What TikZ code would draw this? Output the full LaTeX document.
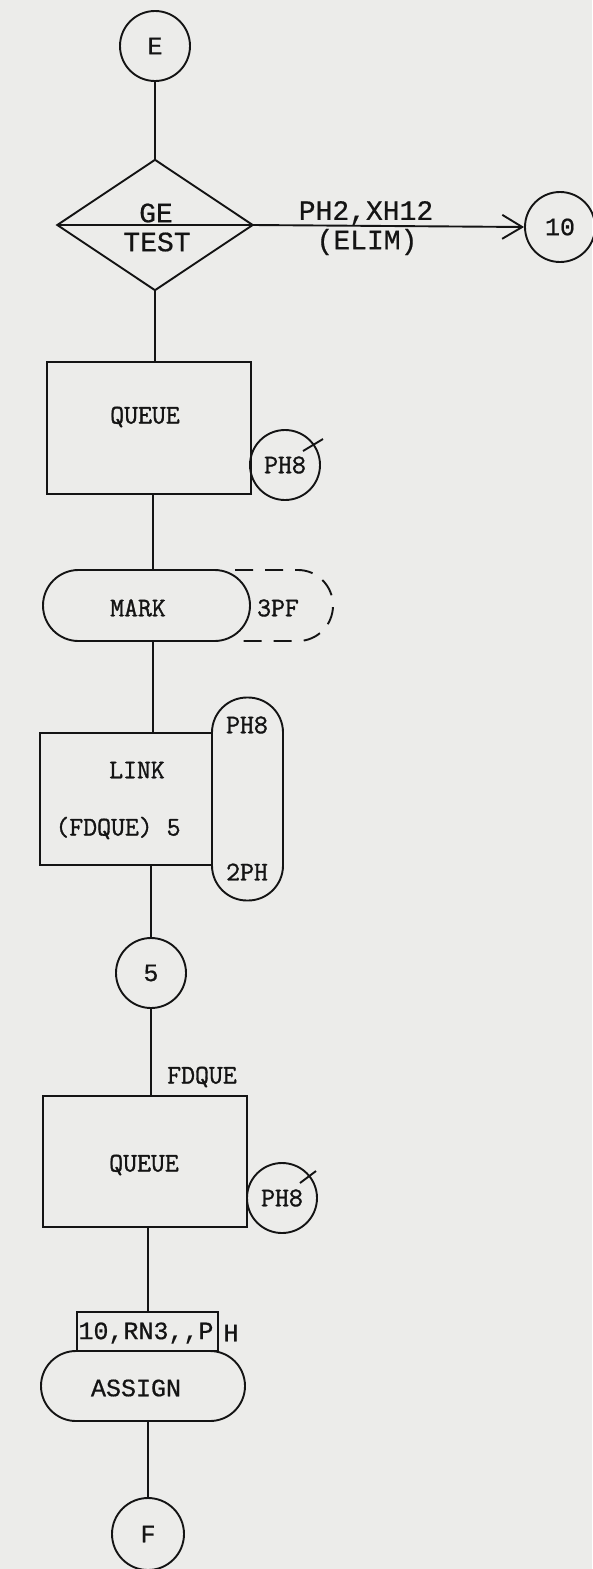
\documentclass[tikz,border=0pt]{standalone}
\usepackage{fontspec}
\usetikzlibrary{shapes.misc,arrows.meta,calc}
\newfontfamily\courfont[FakeBold=0.6]{Liberation Mono}
\newfontfamily\twfont[FakeBold=1.2]{Latin Modern Mono}
\definecolor{bg}{RGB}{236,236,234}
\definecolor{ink}{RGB}{20,20,20}
\tikzset{
  ln/.style={draw=ink, line width=1.9pt},
  conn/.style={circle, draw=ink, line width=1.9pt, minimum size=70pt, inner sep=0pt},
  boxn/.style={rectangle, draw=ink, line width=1.9pt, inner sep=0pt},
  termn/.style={rounded rectangle, draw=ink, line width=1.9pt, inner sep=0pt},
  cour/.style={font=\courfont\fontsize{25}{25}\selectfont, text=ink, inner sep=0pt},
  courbig/.style={font=\courfont\fontsize{28}{28}\selectfont, text=ink, inner sep=0pt},
  tw/.style={font=\twfont\fontsize{27}{27}\selectfont, text=ink, inner sep=0pt},
  barb/.style={-{Straight Barb[length=20pt,width=24pt,line width=1.9pt]}}
}
\begin{document}
\begin{tikzpicture}[x=1pt,y=-1pt]
\fill[bg] (0,0) rectangle (592,1569);
\useasboundingbox (0,0) rectangle (592,1569);

% E connector
\node[conn, cour] (E) at (155,46) {E};

% GE TEST diamond
\node[rectangle, minimum width=195pt, minimum height=130pt, inner sep=0pt] (d) at (155,225) {};
\draw[ln, line join=miter] (d.north) -- (d.east) -- (d.south) -- (d.west) -- cycle;
\draw[ln] (d.west) -- (d.east);
\node[courbig] (ge) at (156,213) {GE};
\node[courbig] (test) at (157,242) {TEST};

% 10 connector
\node[conn, cour] (c10) at (560,227) {10};
\draw[ln, barb] (d.east) -- (c10.west);
\node[courbig] (ph2) at (366,213) {PH2,XH12};
\node[courbig] (elim) at (367,242) {(ELIM)};

\draw[ln] (E.south) -- (d.north);

% QUEUE 1
\node[boxn, minimum width=204pt, minimum height=132pt] (q1) at (149,428) {};
\node[tw] (q1t) at (145,417) {QUEUE};
\draw[ln] (d.south) -- (d.south |- q1.north);
\node[conn, tw] (ph81) at (285,465) {PH8};
\draw[ln] ($(ph81.center)+(18,-14)$) -- ($(ph81.center)+(38,-26)$);

% MARK
\node[termn, minimum width=207pt, minimum height=71pt] (mark) at (146.5,605.5) {};
\node[tw] (markt) at (138,608) {MARK};
\draw[ln, dash pattern=on 18pt off 12pt] (235,570) -- (298,570) arc[start angle=-90, end angle=90, x radius=35, y radius=35.5] -- (235,641);
\node[tw] (pf) at (278,608) {3PF};
\draw[ln] (153,494) -- (153,570);

% LINK
\node[boxn, minimum width=172pt, minimum height=132pt] (link) at (126,799) {};
\node[tw] (linkt) at (137,770) {LINK};
\node[tw] (fdq) at (118,828) {(FDQUE) 5};
\node[rectangle, draw=ink, line width=1.9pt, rounded corners=35pt, minimum width=71pt, minimum height=203pt, inner sep=0pt] (st) at (247.5,799) {};
\node[tw] (stt) at (247,725) {PH8};
\node[tw] (stb) at (247,872) {2PH};
\draw[ln] (153,641) -- (153,733);

% 5 connector
\node[conn, cour] (c5) at (151,973) {5};
\draw[ln] (c5.north |- link.south) -- (c5.north);

% QUEUE 2
\node[boxn, minimum width=204pt, minimum height=131pt] (q2) at (145,1161.5) {};
\node[tw] (q2t) at (144,1165) {QUEUE};
\node[tw] (fdlab) at (202,1077) {FDQUE};
\draw[ln] (c5.south) -- (c5.south |- q2.north);
\node[conn, tw] (ph82) at (282,1198) {PH8};
\draw[ln] ($(ph82.center)+(18,-15)$) -- ($(ph82.center)+(34,-27)$);

% ASSIGN
\node[boxn, minimum width=141pt, minimum height=39pt] (pb) at (147.5,1331.5) {};
\node[cour] (pbt) at (146,1333) {10,RN3,,P};
\node[cour] (h) at (231,1333) {H};
\draw[ln] (148,1227) -- (148,1312);
\node[termn, minimum width=204pt, minimum height=70pt] (asg) at (143,1386) {};
\node[cour] (asgt) at (136,1388) {ASSIGN};

% F connector
\node[conn, cour, minimum size=72pt] (F) at (148,1534) {F};
\draw[ln] (F.north |- asg.south) -- (F.north);
\end{tikzpicture}
\end{document}
